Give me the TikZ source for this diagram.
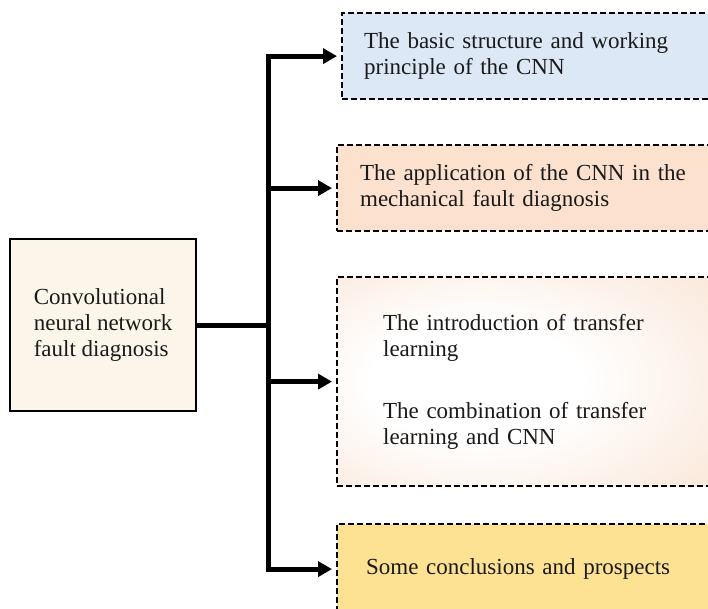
\documentclass[tikz,border=0pt]{standalone}
\usepackage{fontspec}
\setmainfont{Liberation Serif}
\usetikzlibrary{calc, arrows.meta}

\definecolor{rootfill}{HTML}{FCF6EA}
\definecolor{bluefill}{HTML}{DCE8F5}
\definecolor{salmonfill}{HTML}{FBE1CE}
\definecolor{peachfill}{HTML}{F8DBC6}
\definecolor{yellowfill}{HTML}{FDE293}
\definecolor{inkgray}{HTML}{1A1A1A}

\pgfdeclareradialshading{softglow}{\pgfpoint{-8bp}{0bp}}{color(0bp)=(white); color(14bp)=(white); color(42bp)=(peachfill!75!white); color(55bp)=(peachfill); color(75bp)=(peachfill)}

\tikzset{
    rootbox/.style={draw, line width=2.2pt, fill=rootfill, anchor=north west, minimum width=186pt, minimum height=172pt, align=left},
    topicbox/.style={draw, line width=2.2pt, dash pattern=on 6pt off 3pt, anchor=north west, text width=360pt, align=left},
    link/.style={line width=5pt, line cap=rect},
    branch/.style={line width=5pt, -{Triangle[length=14pt, width=15pt]}, shorten >=4pt},
}

\begin{document}
\begin{tikzpicture}[x=1pt, y=-1pt, font=\fontsize{23}{26}\selectfont, text=inkgray]

    \useasboundingbox (0,0) rectangle (708,609);
    \clip (0,0) rectangle (708,609);

    %Root
    \node[rootbox] (root) at (9,238) {Convolutional\\neural network\\fault diagnosis};

    %Topics
    \node[topicbox, fill=bluefill, minimum height=86pt, inner xsep=22pt] (basic) at (341,12) {The basic structure and working\\principle of the CNN};
    \node[topicbox, fill=salmonfill, minimum height=86pt, inner xsep=23pt] (app) at (336,144) {The application of the CNN in the\\mechanical fault diagnosis};
    \node[topicbox, shading=softglow, minimum height=209pt, text width=284pt, inner xsep=46pt] (transfer) at (336,276) {The introduction of transfer\\learning\\[36pt]The combination of transfer\\learning and CNN};
    \node[topicbox, fill=yellowfill, minimum height=90pt, inner xsep=29pt] (prospect) at (336,523) {Some conclusions and prospects};

    %Lines
    \coordinate (split) at ($(root.east)+(71,0)$);
    \draw[link] (root.east) -- (split);
    \draw[link] (split |- basic.west) -- (split |- prospect.west);
    \draw[branch] (split |- basic.west) -- (basic.west);
    \draw[branch] (split |- app.west) -- (app.west);
    \draw[branch] (split |- transfer.west) -- (transfer.west);
    \draw[branch] (split |- prospect.west) -- (prospect.west);
\end{tikzpicture}
\end{document}
